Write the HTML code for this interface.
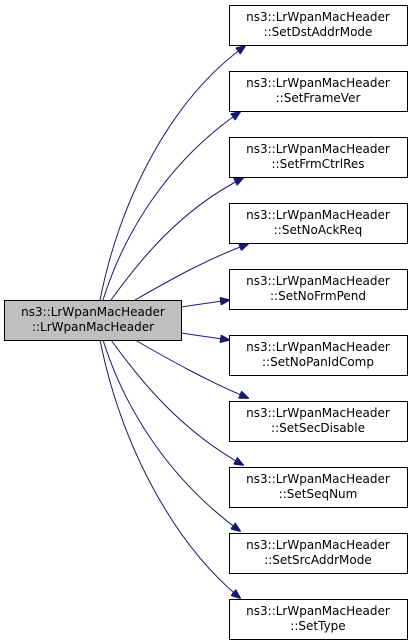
<!DOCTYPE html>
<html><head><style>
body{margin:0;background:#fff;}
svg{display:block}
text{font-family:"DejaVu Sans","Liberation Sans",sans-serif;font-size:12px;}
</style></head><body>
<svg width="411" height="640" viewBox="0 0 411 640">
<defs><marker id="a" markerWidth="10" markerHeight="8" refX="9" refY="4" orient="auto" markerUnits="userSpaceOnUse"><path d="M0,0 L10,4 L0,8 z" fill="#191970" stroke="#191970"/></marker></defs>
<g fill="none" stroke="#191970" stroke-width="1" marker-end="url(#a)">
<path d="M100,300 C120,200 170,100 245,46"/>
<path d="M103,300 C125,230 170,160 240,112"/>
<path d="M111,300 C140,260 180,210 243,178"/>
<path d="M135,300 C170,280 205,260 248,244"/>
<path d="M181,307 L229,300"/>
<path d="M181,333 L229,340"/>
<path d="M135,340 C170,360 205,380 248,398"/>
<path d="M111,340 C140,380 180,430 243,465"/>
<path d="M103,340 C125,410 170,480 240,531"/>
<path d="M100,340 C120,440 170,540 240,598"/>
</g>
<rect x="4.5" y="300.5" width="177" height="40" fill="#bfbfbf" stroke="#000"/>
<text x="93" y="316" text-anchor="middle">ns3::LrWpanMacHeader</text>
<text x="93" y="331" text-anchor="middle">::LrWpanMacHeader</text>
<g fill="#fff" stroke="#000">
<rect x="229.5" y="5.5" width="178" height="40"/>
<rect x="229.5" y="71.5" width="178" height="40"/>
<rect x="229.5" y="137.5" width="178" height="40"/>
<rect x="229.5" y="203.5" width="178" height="40"/>
<rect x="229.5" y="269.5" width="178" height="40"/>
<rect x="229.5" y="335.5" width="178" height="40"/>
<rect x="229.5" y="401.5" width="178" height="40"/>
<rect x="229.5" y="467.5" width="178" height="40"/>
<rect x="229.5" y="533.5" width="178" height="40"/>
<rect x="229.5" y="599.5" width="178" height="40"/>
</g>
<g text-anchor="middle">
<text x="318" y="21">ns3::LrWpanMacHeader</text><text x="318" y="36">::SetDstAddrMode</text>
<text x="318" y="87">ns3::LrWpanMacHeader</text><text x="318" y="102">::SetFrameVer</text>
<text x="318" y="153">ns3::LrWpanMacHeader</text><text x="318" y="168">::SetFrmCtrlRes</text>
<text x="318" y="219">ns3::LrWpanMacHeader</text><text x="318" y="234">::SetNoAckReq</text>
<text x="318" y="285">ns3::LrWpanMacHeader</text><text x="318" y="300">::SetNoFrmPend</text>
<text x="318" y="351">ns3::LrWpanMacHeader</text><text x="318" y="366">::SetNoPanIdComp</text>
<text x="318" y="417">ns3::LrWpanMacHeader</text><text x="318" y="432">::SetSecDisable</text>
<text x="318" y="483">ns3::LrWpanMacHeader</text><text x="318" y="498">::SetSeqNum</text>
<text x="318" y="549">ns3::LrWpanMacHeader</text><text x="318" y="564">::SetSrcAddrMode</text>
<text x="318" y="615">ns3::LrWpanMacHeader</text><text x="318" y="630">::SetType</text>
</g>
</svg>
</body></html>
